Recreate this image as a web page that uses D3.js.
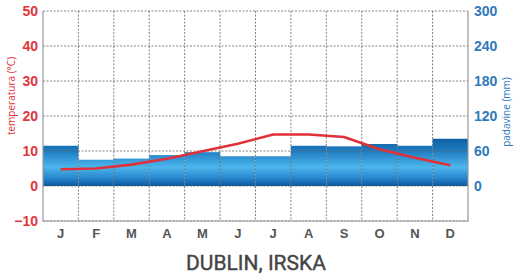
<!DOCTYPE html>
<html>
<head>
<meta charset="utf-8">
<script src="https://cdn.jsdelivr.net/npm/d3@7"></script>
<style>
  body { margin: 0; background: #fff; }
</style>
</head>
<body>
<div id="canvas"></div>
<script>
// Dublin climate data
const months = ["J", "F", "M", "A", "M", "J", "J", "A", "S", "O", "N", "D"];
const temperature = [4.8, 5.0, 6.1, 7.8, 9.9, 12.1, 14.7, 14.7, 14.0, 10.5, 8.1, 5.9];
const precipitation = [69, 45, 47, 53, 58, 51, 51, 69, 68, 72, 69, 81];
const tempTicks = [-10, 0, 10, 20, 30, 40, 50];
const rainTicks = [0, 60, 120, 180, 240, 300];

const width = 518;
const height = 279;
const margin = { top: 11, left: 43, bottom: 58, right: 50 };
const iwidth = width - margin.left - margin.right;
const iheight = height - margin.top - margin.bottom;

const svg = d3.select("#canvas").append("svg")
  .attr("width", width)
  .attr("height", height)
  .style("font-family", "'Open Sans', sans-serif");

const g = svg.append("g").attr("transform", `translate(${margin.left}, ${margin.top})`);

const x = d3.scaleBand().domain(d3.range(12)).range([0, iwidth]);
const y = d3.scaleLinear().domain([-10, 50]).range([iheight, 0]);
const y2 = d3.scaleLinear().domain([-60, 300]).range([iheight, 0]);

// bar gradient
const grad = svg.append("defs").append("linearGradient")
  .attr("id", "rain")
  .attr("gradientUnits", "userSpaceOnUse")
  .attr("x1", 0).attr("x2", 0)
  .attr("y1", y2(85)).attr("y2", y2(0));
grad.append("stop").attr("offset", "0%").attr("stop-color", "#0c5aa0");
grad.append("stop").attr("offset", "30%").attr("stop-color", "#1f7dc3");
grad.append("stop").attr("offset", "62%").attr("stop-color", "#4cb6ec");
grad.append("stop").attr("offset", "85%").attr("stop-color", "#2484cb");
grad.append("stop").attr("offset", "100%").attr("stop-color", "#0a56a0");

g.selectAll("rect.bar")
  .data(precipitation)
  .enter()
  .append("rect")
  .attr("class", "bar")
  .attr("x", (d, i) => x(i))
  .attr("width", x.bandwidth())
  .attr("y", (d) => y2(d))
  .attr("height", (d) => y2(0) - y2(d))
  .attr("fill", "url(#rain)");

// grid
g.selectAll("line.hgrid")
  .data(tempTicks)
  .enter()
  .append("line")
  .attr("x1", 0).attr("x2", iwidth)
  .attr("y1", (d) => y(d)).attr("y2", (d) => y(d))
  .attr("stroke", "#666")
  .attr("stroke-width", 0.8)
  .attr("stroke-dasharray", "2,1.5");

g.selectAll("line.vgrid")
  .data(d3.range(1, 12))
  .enter()
  .append("line")
  .attr("x1", (d) => x(d)).attr("x2", (d) => x(d))
  .attr("y1", 0).attr("y2", iheight)
  .attr("stroke", "#666")
  .attr("stroke-width", 0.8)
  .attr("stroke-dasharray", "2,1.5");

// frame: left, bottom, right solid
g.append("path")
  .attr("d", `M0,0V${iheight}H${iwidth}V0`)
  .attr("fill", "none")
  .attr("stroke", "#999")
  .attr("stroke-width", 1.2);

// temperature line
const line = d3.line()
  .x((d, i) => x(i) + x.bandwidth() / 2)
  .y((d) => y(d));

g.append("path")
  .datum(temperature)
  .attr("d", line)
  .attr("fill", "none")
  .attr("stroke", "#e0303a")
  .attr("stroke-width", 2.6)
  .attr("stroke-linejoin", "round");

// axes
const leftAxis = g.append("g")
  .call(d3.axisLeft(y).tickValues(tempTicks).tickSize(0).tickPadding(5));
leftAxis.select(".domain").remove();
leftAxis.selectAll("text")
  .attr("fill", "#e2343c")
  .style("font-size", "14px")
  .style("font-weight", "700");

const rightAxis = g.append("g")
  .attr("transform", `translate(${iwidth}, 0)`)
  .call(d3.axisRight(y2).tickValues(rainTicks).tickSize(0).tickPadding(6));
rightAxis.select(".domain").remove();
rightAxis.selectAll("text")
  .attr("fill", "#2f79ba")
  .style("font-size", "14px")
  .style("font-weight", "700");

const bottomAxis = g.append("g")
  .attr("transform", `translate(0, ${iheight})`)
  .call(d3.axisBottom(x).tickFormat((i) => months[i]).tickSize(0).tickPadding(8));
bottomAxis.select(".domain").remove();
bottomAxis.selectAll("text")
  .attr("fill", "#555")
  .style("font-size", "13px")
  .style("font-weight", "700");

// axis titles
svg.append("text")
  .attr("transform", `translate(15, 96) rotate(-90)`)
  .attr("text-anchor", "middle")
  .attr("fill", "#e2343c")
  .style("font-size", "10px")
  .text("temperatura (°C)");

svg.append("text")
  .attr("transform", `translate(510, 112) rotate(-90)`)
  .attr("text-anchor", "middle")
  .attr("fill", "#2f79ba")
  .style("font-size", "10px")
  .text("padavine (mm)");

svg.append("text")
  .attr("x", 256)
  .attr("y", 270)
  .attr("text-anchor", "middle")
  .attr("fill", "#444")
  .attr("stroke", "#444")
  .attr("stroke-width", 0.4)
  .style("font-size", "21px")
  .style("font-family", "'Liberation Sans Narrow', 'Roboto', sans-serif")
  .style("font-weight", "400")
  .text("DUBLIN, IRSKA");
</script>
</body>
</html>
